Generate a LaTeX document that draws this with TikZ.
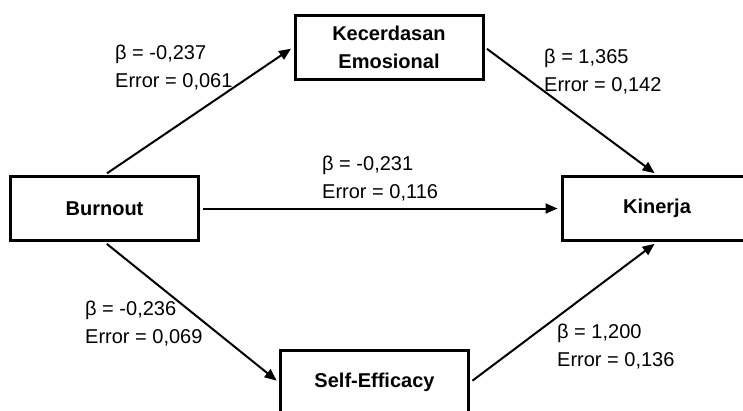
\documentclass[tikz,border=0pt]{standalone}
\usepackage{fontspec}
\setmainfont{Liberation Sans}
\usetikzlibrary{arrows.meta}
\begin{document}
\begin{tikzpicture}[x=1pt,y=-1pt,
    varbox/.style={draw,line width=3pt,font=\fontsize{20}{28}\selectfont\bfseries,
        minimum width=188pt,minimum height=64pt,align=center},
    effect/.style={-{Triangle[length=12pt,width=10pt]},line width=2pt,
        shorten <=3pt,shorten >=3pt},
    coef/.style={anchor=west,align=left,inner sep=0pt,font=\fontsize{20}{28}\selectfont}]
    \useasboundingbox (0,0) rectangle (743,410);
    %draw variables
    \node[varbox] (kecerdasan) at (389,47) {Kecerdasan\\Emosional};
    \node[varbox] (burnout) at (104.5,208.5) {Burnout};
    \node[varbox,minimum width=190pt] (kinerja) at (657,208.5) {Kinerja};
    \node[varbox] (selfeff) at (374.5,382.5) {Self-Efficacy};
    %draw paths
    \draw[effect] (burnout.north) -- (kecerdasan.west);
    \draw[effect] (kecerdasan.east) -- (kinerja.north);
    \draw[effect] (burnout.east) -- (kinerja.west);
    \draw[effect] (burnout.south) -- (selfeff.west);
    \draw[effect] (selfeff.east) -- (kinerja.south);
    %draw coefficients
    \node[coef] (c1) at (115,67.5) {β = -0,237\\Error = 0,061};
    \node[coef] (c2) at (544,72) {β = 1,365\\Error = 0,142};
    \node[coef] (c3) at (322,179) {β = -0,231\\Error = 0,116};
    \node[coef] (c4) at (85,324) {β = -0,236\\Error = 0,069};
    \node[coef] (c5) at (557,346.5) {β = 1,200\\Error = 0,136};
\end{tikzpicture}
\end{document}
